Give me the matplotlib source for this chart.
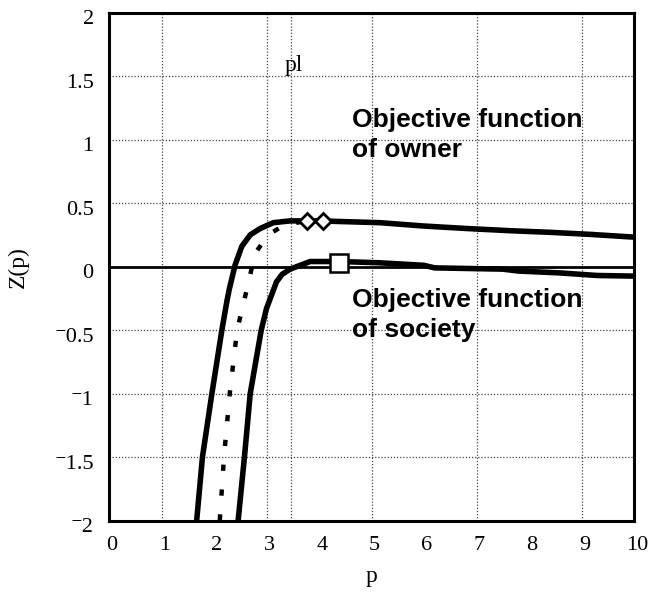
import matplotlib.pyplot as plt
from matplotlib.transforms import ScaledTranslation

# curves
owner_p = [1.67, 1.78, 1.96, 2.15, 2.25, 2.29, 2.40, 2.53, 2.69, 2.88, 3.13, 3.45, 4.0,
           5.16, 5.98, 6.81, 7.63, 8.40, 9.16, 10.0]
owner_z = [-2.0, -1.5, -1.0, -0.5, -0.263, -0.18, 0.01, 0.16, 0.25, 0.30, 0.346, 0.36, 0.36,
           0.346, 0.32, 0.30, 0.283, 0.27, 0.254, 0.232]

dotted_p = [2.11, 2.19, 2.30, 2.44, 2.57, 2.72, 2.81, 3.03, 3.35, 3.78]
dotted_z = [-2.0, -1.5, -1.0, -0.5, -0.276, -0.01, 0.12, 0.25, 0.33, 0.36]

society_p = [2.46, 2.58, 2.69, 2.90, 3.0, 3.10, 3.19, 3.30, 3.45, 3.64, 3.83, 4.4, 5.15,
             6.0, 6.2, 7.5, 7.8, 8.6, 9.3, 10.0]
society_z = [-2.0, -1.5, -1.0, -0.5, -0.33, -0.22, -0.12, -0.06, -0.02, 0.01, 0.04, 0.04, 0.03,
             0.01, -0.01, -0.02, -0.035, -0.05, -0.07, -0.075]

diamond_p = [3.78, 4.08]
diamond_z = [0.36, 0.36]
square_p = [4.39]
square_z = [0.03]

pl = 3.47
xticks = list(range(0, 11))
yticks = [-2, -1.5, -1, -0.5, 0, 0.5, 1, 1.5, 2]
ylabels = ["\u207b2", "\u207b1.5", "\u207b1", "\u207b0.5", "0", "0.5", "1", "1.5", "2"]

serif = ['Liberation Serif', 'DejaVu Serif']

fig = plt.figure(figsize=(6.5, 5.93), dpi=100)
ax = fig.add_axes([109/650, 1 - 520.5/593, (634 - 109)/650, (520.5 - 12.7)/593])

# grid: dotted at odd p and every 0.5 in z
for x in [1, 3, 5, 7, 9, pl]:
    ax.axvline(x, color='#444444', lw=0.9, ls=(0, (1, 1.5)), zorder=1)
for y in [-1.5, -1, -0.5, 0.5, 1, 1.5]:
    ax.axhline(y, color='#444444', lw=0.9, ls=(0, (1, 1.5)), zorder=1)
ax.axhline(0, color='black', lw=2, zorder=2)

ax.plot(owner_p, owner_z, color='black', lw=4, zorder=3, solid_joinstyle='round')
ax.plot(society_p, society_z, color='black', lw=4, zorder=3, solid_joinstyle='round')
ax.plot(dotted_p, dotted_z, color='black', lw=3.2, ls=(0, (1.4, 4.2)),
        dash_capstyle='butt', zorder=3)
ax.plot(diamond_p, diamond_z, ls='none', marker='D', ms=8.5, mfc='white',
        mec='black', mew=2, zorder=4)
ax.plot(square_p, square_z, ls='none', marker='s', ms=12.5, mfc='white',
        mec='black', mew=1.8, zorder=4)

ax.set_xlim(0, 10)
ax.set_ylim(-2, 2)
ax.set_xticks(xticks)
ax.set_yticks(yticks)
ax.set_yticklabels(ylabels)
ax.tick_params(length=0, labelsize=16, pad=11)
for lab in ax.get_xticklabels() + ax.get_yticklabels():
    lab.set_family(serif)
for lab in ax.get_xticklabels():
    lab.set_transform(lab.get_transform() + ScaledTranslation(0.03, 0, fig.dpi_scale_trans))
for lab in ax.get_yticklabels():
    lab.set_transform(lab.get_transform() + ScaledTranslation(0, -0.045, fig.dpi_scale_trans))

for s in ax.spines.values():
    s.set_linewidth(2.2)

ax.set_xlabel('p', family=serif, fontsize=17, labelpad=8)
ax.set_ylabel('Z(p)', family=serif, fontsize=17, labelpad=18)

ax.text(pl - 0.12, 1.54, 'pl', family=serif, fontsize=17, va='baseline')

bold = dict(family='Liberation Sans', fontweight='bold', fontsize=19, va='baseline')
ax.text(4.63, 1.097, 'Objective function', **bold)
ax.text(4.63, 0.865, 'of owner', **bold)
ax.text(4.63, -0.316, 'Objective function', **bold)
ax.text(4.63, -0.552, 'of society', **bold)

fig.savefig('out.png', dpi=100)
